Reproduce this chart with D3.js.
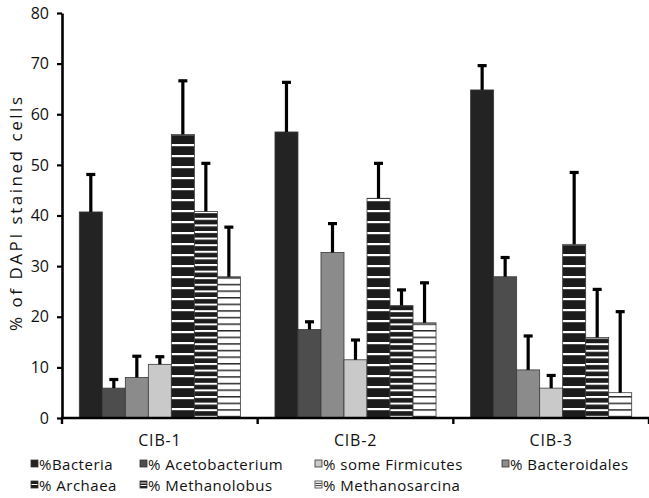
<!DOCTYPE html>
<html>
<head>
<meta charset="utf-8">
<script src="https://cdn.jsdelivr.net/npm/d3@7"></script>
<style>
    body { margin: 0; background: #fff; }
    text { font-family: "Open Sans", "DejaVu Sans", sans-serif; fill: #111; }
    .tickLabel { font-size: 16px; }
    .axisLabel { font-size: 16px; }
    .yLabel { font-size: 17px; }
    .legendText { font-size: 15px; letter-spacing: 0.5px; }
</style>
</head>
<body>
<svg id="chartSVG" width="649" height="498"></svg>
<script>
//////////////////// DATA ////////////////////
const categories = ["CIB-1", "CIB-2", "CIB-3"];
const seriesNames = ["%Bacteria", "% Acetobacterium", "% Bacteroidales", "% some Firmicutes",
                     "% Archaea", "% Methanolobus", "% Methanosarcina"];
// mean values per series, one entry per category
const bacteria        = [40.7, 56.5, 64.8];
const acetobacterium  = [5.9, 17.5, 27.9];
const bacteroidales   = [8.0, 32.7, 9.5];
const someFirmicutes  = [10.6, 11.5, 5.9];
const archaea         = [56.0, 43.4, 34.3];
const methanolobus    = [40.8, 22.2, 15.9];
const methanosarcina  = [27.9, 18.8, 5.0];
// upper error (sd) per series
const bacteriaErr       = [7.6, 10.0, 5.0];
const acetobacteriumErr = [1.9, 1.7, 4.0];
const bacteroidalesErr  = [4.4, 5.9, 6.9];
const someFirmicutesErr = [1.7, 4.1, 2.7];
const archaeaErr        = [10.8, 7.1, 14.4];
const methanolobusErr   = [9.7, 3.3, 9.7];
const methanosarcinaErr = [10.0, 8.1, 16.2];
const yTicks = [0, 10, 20, 30, 40, 50, 60, 70, 80];
// legend order as printed in the figure
const legendOrder = ["%Bacteria", "% Acetobacterium", "% some Firmicutes", "% Bacteroidales",
                     "% Archaea", "% Methanolobus", "% Methanosarcina"];

const seriesValues = [bacteria, acetobacterium, bacteroidales, someFirmicutes, archaea, methanolobus, methanosarcina];
const seriesErrors = [bacteriaErr, acetobacteriumErr, bacteroidalesErr, someFirmicutesErr, archaeaErr, methanolobusErr, methanosarcinaErr];

//////////////////// HANDLE SIZES ////////////////////
const sizes = {
    left: 62,
    right: 649,
    top: 13,
    bottom: 418,
    groupPad: 17.3
}

const fills = {
    "%Bacteria": "#232323",
    "% Acetobacterium": "#4d4d4d",
    "% Bacteroidales": "#8b8b8b",
    "% some Firmicutes": "#c9c9c9",
    "% Archaea": "url(#archaeaPat)",
    "% Methanolobus": "url(#methanolobusPat)",
    "% Methanosarcina": "url(#methanosarcinaPat)"
}

const svg = d3.select("#chartSVG");

//////////////////// PATTERNS ////////////////////
const defs = svg.append("defs");

function stripePattern(id, period, bg, lineColor, lineWidth, offset) {
    const p = defs.append("pattern")
        .attr("id", id)
        .attr("patternUnits", "userSpaceOnUse")
        .attr("width", 8)
        .attr("height", period)
        .attr("y", offset);
    p.append("rect").attr("width", 8).attr("height", period).attr("fill", bg);
    p.append("rect").attr("y", 0).attr("width", 8).attr("height", lineWidth).attr("fill", lineColor);
}
stripePattern("archaeaPat", 11, "#1c1c1c", "#ffffff", 2.2, 1);
stripePattern("methanolobusPat", 6.6, "#1c1c1c", "#ffffff", 2, 0);
stripePattern("methanosarcinaPat", 6.6, "#ffffff", "#2a2a2a", 1.5, 0);

//////////////////// INITIALIZE SCALERS ////////////////////
const xScale = d3.scaleBand()
    .domain(categories)
    .range([sizes.left, sizes.right]);

const xInner = d3.scaleBand()
    .domain(seriesNames)
    .range([sizes.groupPad, xScale.bandwidth() - sizes.groupPad]);

const yScale = d3.scaleLinear()
    .domain([0, 80])
    .range([sizes.bottom, sizes.top]);

//////////////////// DRAW BARS ////////////////////
const barData = [];
categories.forEach((c, ci) => {
    seriesNames.forEach((s, si) => {
        barData.push({ cat: c, series: s, value: seriesValues[si][ci], err: seriesErrors[si][ci] });
    });
});

svg.append("g")
    .selectAll("rect")
    .data(barData)
    .enter()
    .append("rect")
    .attr("x", d => xScale(d.cat) + xInner(d.series))
    .attr("y", d => yScale(d.value))
    .attr("width", xInner.bandwidth())
    .attr("height", d => sizes.bottom - yScale(d.value))
    .attr("fill", d => fills[d.series])
    .attr("stroke", "#3a3a3a")
    .attr("stroke-width", 0.8);

// error bars
const errGroup = svg.append("g")
    .attr("stroke", "#000")
    .attr("stroke-width", 3.2);

errGroup.selectAll(".errLine")
    .data(barData)
    .enter()
    .append("line")
    .attr("x1", d => xScale(d.cat) + xInner(d.series) + xInner.bandwidth() / 2)
    .attr("x2", d => xScale(d.cat) + xInner(d.series) + xInner.bandwidth() / 2)
    .attr("y1", d => yScale(d.value))
    .attr("y2", d => yScale(d.value + d.err));

errGroup.selectAll(".errCap")
    .data(barData)
    .enter()
    .append("line")
    .attr("x1", d => xScale(d.cat) + xInner(d.series) + xInner.bandwidth() / 2 - 4.5)
    .attr("x2", d => xScale(d.cat) + xInner(d.series) + xInner.bandwidth() / 2 + 4.5)
    .attr("y1", d => yScale(d.value + d.err) + 1)
    .attr("y2", d => yScale(d.value + d.err) + 1);

//////////////////// AXES ////////////////////
const yAxis = d3.axisLeft(yScale)
    .tickValues(yTicks)
    .tickSize(5)
    .tickPadding(8)
    .tickSizeOuter(0);

const yAxisGroup = svg.append("g")
    .attr("transform", `translate(${sizes.left}, 0)`)
    .call(yAxis);
yAxisGroup.select(".domain").attr("stroke", "#000").attr("stroke-width", 2.6);
yAxisGroup.selectAll(".tick line").attr("stroke", "#000").attr("stroke-width", 2.2);
yAxisGroup.selectAll(".tick text")
    .attr("class", "tickLabel")
    .attr("fill", "#111")
    .attr("font-family", null)
    .attr("font-size", null);

// x axis line and category boundary ticks
svg.append("line")
    .attr("x1", sizes.left - 1)
    .attr("x2", sizes.right)
    .attr("y1", sizes.bottom)
    .attr("y2", sizes.bottom)
    .attr("stroke", "#000")
    .attr("stroke-width", 2.6);

const boundaries = categories.map(c => xScale(c)).concat([sizes.right]);
svg.append("g")
    .selectAll("line")
    .data(boundaries)
    .enter()
    .append("line")
    .attr("x1", d => d)
    .attr("x2", d => d)
    .attr("y1", sizes.bottom)
    .attr("y2", sizes.bottom + 6)
    .attr("stroke", "#000")
    .attr("stroke-width", 2.4);

svg.append("g")
    .selectAll("text")
    .data(categories)
    .enter()
    .append("text")
    .attr("class", "axisLabel")
    .attr("x", d => xScale(d) + xScale.bandwidth() / 2)
    .attr("y", 446)
    .attr("text-anchor", "middle")
    .attr("letter-spacing", "0.8px")
    .text(d => d);

// y-axis label
svg.append("text")
    .attr("class", "yLabel")
    .attr("transform", "translate(22, 214) rotate(-90)")
    .attr("text-anchor", "middle")
    .attr("textLength", 234)
    .attr("lengthAdjust", "spacing")
    .text("% of DAPI stained cells");

//////////////////// LEGEND ////////////////////
const legendPos = [
    { x: 31, y: 470 }, { x: 140, y: 470 }, { x: 315, y: 470 }, { x: 502, y: 470 },
    { x: 31, y: 491 }, { x: 140, y: 491 }, { x: 315, y: 491 }
];

const legend = svg.append("g")
    .selectAll("g")
    .data(legendOrder)
    .enter()
    .append("g")
    .attr("transform", (d, i) => `translate(${legendPos[i].x}, ${legendPos[i].y})`);

legend.append("rect")
    .attr("x", 0)
    .attr("y", -10)
    .attr("width", 7)
    .attr("height", 7)
    .attr("fill", d => d.startsWith("% Meth") || d === "% Archaea" ? (d === "% Methanosarcina" ? "#fff" : "#1c1c1c") : fills[d])
    .attr("stroke", "#333")
    .attr("stroke-width", 0.8);

// little stripes inside the patterned swatches
const swatchStripes = {
    "% Archaea": { color: "#fff", ys: [-6.5] },
    "% Methanolobus": { color: "#fff", ys: [-8, -5.5] },
    "% Methanosarcina": { color: "#333", ys: [-7.6, -5.4] }
}
legend.filter(d => swatchStripes[d])
    .each(function (d) {
        d3.select(this).selectAll(".stripe")
            .data(swatchStripes[d].ys)
            .enter()
            .append("line")
            .attr("x1", 0.5)
            .attr("x2", 6.5)
            .attr("y1", y => y)
            .attr("y2", y => y)
            .attr("stroke", swatchStripes[d].color)
            .attr("stroke-width", 1);
    });

legend.append("text")
    .attr("class", "legendText")
    .attr("x", 8)
    .attr("y", 0)
    .text(d => d);
</script>
</body>
</html>
